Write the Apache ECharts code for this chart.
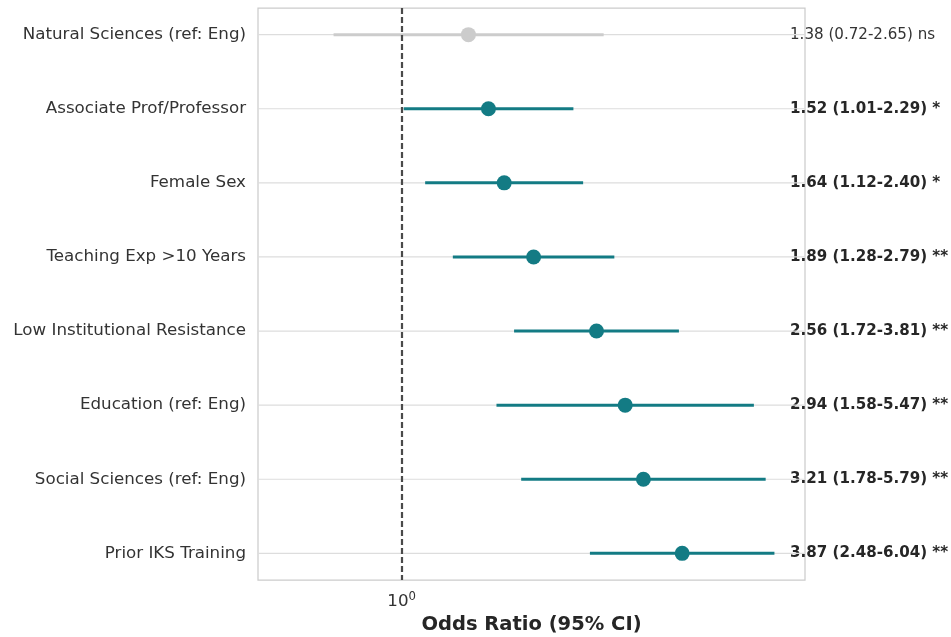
<!DOCTYPE html>
<html>
<head>
<meta charset="utf-8">
<script src="https://cdn.jsdelivr.net/npm/echarts@6/dist/echarts.min.js"></script>
<style>
html,body{margin:0;padding:0;background:#fff;}
#chart{width:951px;height:637px;}
</style>
</head>
<body>
<div id="chart"></div>
<script>
const categories = ['Natural Sciences (ref: Eng)', 'Associate Prof/Professor', 'Female Sex', 'Teaching Exp >10 Years', 'Low Institutional Resistance', 'Education (ref: Eng)', 'Social Sciences (ref: Eng)', 'Prior IKS Training'];
const oddsRatio = [1.38, 1.52, 1.64, 1.89, 2.56, 2.94, 3.21, 3.87];
const ciLow = [0.72, 1.01, 1.12, 1.28, 1.72, 1.58, 1.78, 2.48];
const ciHigh = [2.65, 2.29, 2.40, 2.79, 3.81, 5.47, 5.79, 6.04];
const significance = ['ns', '*', '*', '**', '**', '**', '**', '**'];
const xTickValues = [1];
const rowIndex = categories.map((_, i) => i);

const TEAL = '#137b84';
const GREY = '#cccccc';
const FONT = 'DejaVu Sans';
const isSig = significance.map(s => s !== 'ns');

const annotations = categories.map((_, i) =>
  `${oddsRatio[i].toFixed(2)} (${ciLow[i].toFixed(2)}-${ciHigh[i].toFixed(2)}) ${significance[i]}`);

const chart = echarts.init(document.getElementById('chart'), null, {renderer: 'canvas'});

const yBase = {
  type: 'value', inverse: true, min: -0.36, max: 7.36,
  axisLine: {show: false},
  splitLine: {show: false}
};

chart.setOption({
  animation: false,
  backgroundColor: '#ffffff',
  textStyle: {fontFamily: FONT},
  grid: {
    left: 258, top: 8, right: 146, bottom: 57,
    outerBoundsMode: 'none', containLabel: false,
    show: true, borderColor: '#cccccc', borderWidth: 1.25, backgroundColor: '#ffffff'
  },
  xAxis: {
    type: 'log', logBase: 10, min: 0.5, max: 7,
    name: 'Odds Ratio (95% CI)', nameLocation: 'middle', nameGap: 29,
    nameTextStyle: {fontFamily: FONT, fontSize: 19.5, fontWeight: 'bold', color: '#262626'},
    axisLine: {show: false},
    axisTick: {show: false},
    splitLine: {show: false},
    axisLabel: {
      customValues: xTickValues,
      margin: 11,
      formatter: v => Math.abs(v - 1) < 1e-9 ? '{a|10}{s|0}' : '',
      rich: {
        a: {fontFamily: FONT, fontSize: 16.7, color: '#333333'},
        s: {fontFamily: FONT, fontSize: 11.7, color: '#333333', padding: [0, 0, 9, 0]}
      }
    }
  },
  yAxis: [
    Object.assign({}, yBase, {
      position: 'left',
      axisTick: {show: false, customValues: rowIndex},
      splitLine: {show: false},
      axisLabel: {
        customValues: rowIndex,
        margin: 12,
        fontFamily: FONT, fontSize: 16.7, color: '#333333',
        formatter: v => categories[Math.round(v)] || ''
      }
    }),
    Object.assign({}, yBase, {
      position: 'right',
      axisTick: {show: false, customValues: rowIndex},
      axisLabel: {
        customValues: rowIndex,
        margin: -15,
        align: 'left',
        formatter: v => {
          const i = Math.round(v);
          return isSig[i] ? '{b|' + annotations[i] + '}' : '{n|' + annotations[i] + '}';
        },
        rich: {
          b: {fontFamily: FONT, fontSize: 15.1, fontWeight: 'bold', color: '#262626'},
          n: {fontFamily: FONT, fontSize: 15.1, color: '#333333'}
        }
      }
    })
  ],
  series: [
    {
      // horizontal row gridlines
      type: 'custom',
      yAxisIndex: 0,
      z: 1,
      silent: true,
      data: rowIndex.map(i => [0.5, 7, i]),
      renderItem: (params, api) => {
        const p1 = api.coord([api.value(0), api.value(2)]);
        const p2 = api.coord([api.value(1), api.value(2)]);
        return {type: 'line', shape: {x1: p1[0], y1: p1[1], x2: p2[0], y2: p2[1]},
          style: {stroke: '#dddddd', lineWidth: 1.2}};
      }
    },
    {
      // confidence intervals
      type: 'custom',
      yAxisIndex: 0,
      z: 3,
      data: rowIndex.map(i => [ciLow[i], ciHigh[i], i]),
      renderItem: (params, api) => {
        const i = api.value(2);
        const p1 = api.coord([api.value(0), i]);
        const p2 = api.coord([api.value(1), i]);
        return {type: 'line', shape: {x1: p1[0], y1: p1[1], x2: p2[0], y2: p2[1]},
          style: {stroke: isSig[i] ? TEAL : GREY, lineWidth: 3}};
      },
      markLine: {
        silent: true, symbol: 'none', z: 4,
        label: {show: false},
        lineStyle: {type: [6, 3], color: '#4a4a4a', width: 2.2},
        data: [{xAxis: 1}]
      }
    },
    {
      type: 'scatter',
      yAxisIndex: 0,
      z: 5,
      symbol: 'circle',
      symbolSize: 15,
      data: rowIndex.map(i => ({value: [oddsRatio[i], i], itemStyle: {color: isSig[i] ? TEAL : GREY, opacity: 1}}))
    }
  ]
});
</script>
</body>
</html>
